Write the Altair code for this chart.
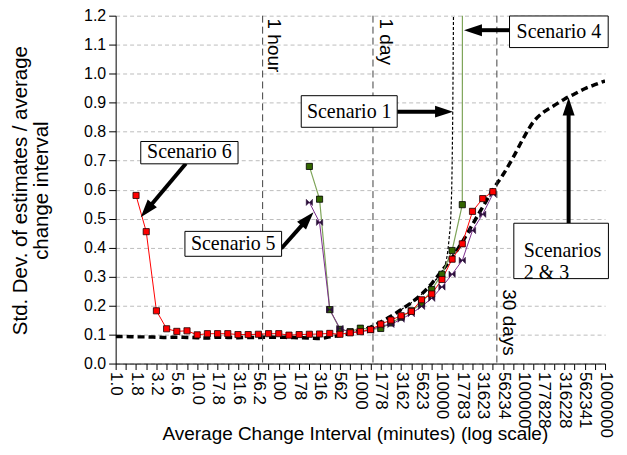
import json
import altair as alt
import pandas as pd

# ---------------- data ----------------
intervals = [1.0, 1.334, 1.778, 2.371, 3.162, 4.217, 5.623, 7.499, 10.0, 13.34,
             17.78, 23.71, 31.62, 42.17, 56.23, 74.99, 100.0, 133.4, 177.8, 237.1,
             316.2, 421.7, 562.3, 749.9, 1000.0, 1334, 1778, 2371, 3162, 4217,
             5623, 7499, 10000, 13335, 17783, 23714, 31623, 42170, 56234, 74989,
             100000, 133352, 177828, 237137, 316228, 421697, 562341, 749894, 1000000]
tick_labels = ["1.0", "1.8", "3.2", "5.6", "10.0", "17.8", "31.6", "56.2", "100", "178",
               "316", "562", "1000", "1778", "3162", "5623", "10000", "17783", "31623",
               "56234", "100000", "177828", "316228", "562341", "1000000"]
y_ticks = [0.0, 0.1, 0.2, 0.3, 0.4, 0.5, 0.6, 0.7, 0.8, 0.9, 1.0, 1.1, 1.2]

# Scenarios 2 & 3 (thick black dashed), index 0..48
scen23 = [0.093, 0.093, 0.092, 0.092, 0.091, 0.090, 0.091, 0.090, 0.089, 0.088,
          0.091, 0.090, 0.089, 0.090, 0.090, 0.091, 0.091, 0.090, 0.089, 0.088,
          0.086, 0.092, 0.097, 0.104, 0.113, 0.125, 0.143, 0.163, 0.186, 0.210,
          0.239, 0.276, 0.320, 0.365, 0.420, 0.480, 0.540, 0.600, 0.652, 0.712,
          0.778, 0.835, 0.868, 0.890, 0.912, 0.930, 0.948, 0.962, 0.975]
# Scenario 6 (red squares), starting at index 2
scen6_start = 2
scen6 = [0.580, 0.455, 0.182, 0.120, 0.111, 0.113, 0.099, 0.103, 0.103, 0.103,
         0.100, 0.100, 0.101, 0.103, 0.103, 0.098, 0.100, 0.101, 0.102, 0.104,
         0.101, 0.106, 0.110, 0.117, 0.136, 0.150, 0.165, 0.180, 0.220, 0.240,
         0.290, 0.360, 0.413, 0.525, 0.569, 0.593]
# Scenario 4 (green squares), starting at index 19; last value is far off the scale
scen4_start = 19
scen4 = [0.680, 0.567, 0.186, 0.118, 0.110, 0.122, 0.118, 0.121, 0.140, 0.160,
         0.182, 0.207, 0.255, 0.308, 0.390, 0.548, 60.0]
# Scenario 5 (purple bow-ties), starting at index 19
scen5_start = 19
scen5 = [0.556, 0.487, 0.186, 0.121, 0.108, 0.110, 0.115, 0.130, 0.135, 0.153,
         0.172, 0.197, 0.225, 0.264, 0.308, 0.356, 0.459, 0.515, 0.585]
# Scenario 1 (thin dotted)
scen1_x = [3162, 4217, 5623, 7499, 10000, 11383, 12232, 12900, 13300, 13560, 13900]
scen1_y = [0.186, 0.210, 0.239, 0.276, 0.318, 0.360, 0.430, 0.520, 0.660, 0.850, 1.250]

# reference lines
ref_x = [63.4, 1428.6, 47180]
ref_labels = ["1 hour", "1 day", "30 days"]
ref_label_x = [86.5, 2078, 66130]
ref_label_y = [1.190, 1.190, 0.256]

# annotation boxes (data coordinates)
box_text = ["Scenario 6", "Scenario 5", "Scenario 1", "Scenario 4", "Scenarios\n2 & 3"]
box_x1 = [2.032, 7.07, 188.5, 67430, 76140]
box_x2 = [31.66, 108.3, 2830, 1093000, 1100000]
box_y1 = [0.689, 0.370, 0.815, 1.090, 0.293]
box_y2 = [0.766, 0.456, 0.924, 1.199, 0.484]
text_x = [8.02, 27.66, 730.5, 271600, 100850]
text_y = [0.728, 0.413, 0.869, 1.144, 0.387]
text_align = ["center", "center", "center", "center", "left"]

# arrows: tail -> base of head -> tip, angle of head (deg, clockwise from up)
arr_tail_x = [7.27, 107.4, 2830, 67430, 357700]
arr_tail_y = [0.690, 0.397, 0.869, 1.150, 0.484]
arr_base_x = [2.716, 197.7, 8722, 29240, 357700]
arr_base_y = [0.547, 0.481, 0.869, 1.150, 0.858]
arr_tip_x = [2.032, 266.4, 13683, 18645, 357700]
arr_tip_y = [0.505, 0.522, 0.869, 1.150, 0.918]
arr_angle = [220, 41.7, 90, 270, 0]

# ---------------- chart ----------------
SANS = "Liberation Sans"
SERIF = "Liberation Serif"

xs = alt.Scale(type="log", domain=[1, 1000000], nice=False)
ys = alt.Scale(domain=[0, 1.2], nice=False, zero=False)

LBL = json.dumps(tick_labels)
label_expr = ("(round(log(datum.value)/LN10*8) % 2 == 0) ? "
              + LBL + "[round(log(datum.value)/LN10*4)] : ''")

x_axis = alt.Axis(values=intervals, labelExpr=label_expr, labelAngle=90,
                  labelAlign="left", labelBaseline="middle", labelFont=SANS,
                  labelFontSize=17, labelColor="black", labelPadding=2,
                  labelOverlap=False, labelFlush=False, labelBound=False,
                  tickSize=6, tickColor="black", domainColor="black", grid=False,
                  title="Average Change Interval (minutes) (log scale)",
                  titleFont=SANS, titleFontSize=19, titleFontWeight="normal",
                  titleColor="black", titleX=240, titleY=61, titleAlign="center",
                  titleBaseline="top")
y_axis = alt.Axis(values=y_ticks, format=".1f", labelFont=SANS, labelFontSize=16,
                  labelColor="black", labelPadding=3, tickSize=7, tickColor="black",
                  domainColor="black", grid=True, gridDash=[4, 3], gridColor="#bdbdbd",
                  title=["Std. Dev. of estimates / average", "change interval"],
                  titleFont=SANS, titleFontSize=20.5, titleFontWeight="normal",
                  titleColor="black", titleX=-105, titleY=175, titleAlign="center",
                  titleBaseline="top", titleLineHeight=21)


def sdf(start, vals):
    return pd.DataFrame({"x": intervals[start:start + len(vals)], "y": vals,
                         "i": list(range(len(vals)))})


def X(field="x"):
    return alt.X(f"{field}:Q", scale=xs, axis=x_axis)


def Y(field="y"):
    return alt.Y(f"{field}:Q", scale=ys, axis=y_axis)


bowtie = "M-1,-1L1,1L1,-1L-1,1Z"
head = "M0,0L-0.6,1.8L0.6,1.8Z"

d23 = sdf(0, scen23)
black = alt.Chart(d23).mark_line(color="black", strokeWidth=3.5, strokeDash=[7, 4],
                                 interpolate="monotone", clip=True).encode(
    x=X(), y=Y(), order="i:Q")

refs = alt.Chart(pd.DataFrame({"x": ref_x})).mark_rule(
    color="#404040", strokeWidth=1, strokeDash=[7, 4]).encode(x=X())

d1 = pd.DataFrame({"x": scen1_x, "y": scen1_y, "i": list(range(len(scen1_x)))})
dotted = alt.Chart(d1).mark_line(color="black", strokeWidth=1.2, strokeDash=[3, 2],
                                 interpolate="monotone", clip=True).encode(
    x=X(), y=Y(), order="i:Q")

d4 = sdf(scen4_start, scen4)
green_line = alt.Chart(d4).mark_line(color="#7fa55a", strokeWidth=1.2, clip=True).encode(
    x=X(), y=Y(), order="i:Q")
green_pts = alt.Chart(d4).mark_point(shape="square", filled=True, fill="#336600",
                                     stroke="black", strokeWidth=0.8, size=38,
                                     opacity=1, clip=True).encode(x=X(), y=Y())

d5 = sdf(scen5_start, scen5)
purple_line = alt.Chart(d5).mark_line(color="#7b2d8e", strokeWidth=1, clip=True).encode(
    x=X(), y=Y(), order="i:Q")
purple_pts = alt.Chart(d5).mark_point(shape=bowtie, filled=True, fill="#2b0f3a",
                                      stroke="#2b0f3a", strokeWidth=0.5, size=40,
                                      opacity=1, clip=True).encode(x=X(), y=Y())

d6 = sdf(scen6_start, scen6)
red_line = alt.Chart(d6).mark_line(color="#ff0000", strokeWidth=1, clip=True).encode(
    x=X(), y=Y(), order="i:Q")
red_pts = alt.Chart(d6).mark_point(shape="square", filled=True, fill="#ff0000",
                                   stroke="#200000", strokeWidth=0.8, size=38,
                                   opacity=1, clip=True).encode(x=X(), y=Y())

ref_text = alt.Chart(pd.DataFrame({"x": ref_label_x, "y": ref_label_y,
                                   "t": ref_labels})).mark_text(
    angle=90, align="left", baseline="middle", font=SANS, fontSize=19,
    color="black").encode(x=X(), y=Y(), text="t:N")

darr = pd.DataFrame({"tx": arr_tail_x, "ty": arr_tail_y, "bx": arr_base_x,
                     "by": arr_base_y, "px": arr_tip_x, "py": arr_tip_y,
                     "ang": arr_angle})
shafts = alt.Chart(darr).mark_rule(color="black", strokeWidth=4).encode(
    x=X("tx"), y=Y("ty"), x2="bx:Q", y2="by:Q")
heads = alt.Chart(darr).mark_point(shape=head, filled=True, color="black", size=400,
                                   opacity=1).encode(
    x=X("px"), y=Y("py"), angle=alt.Angle("ang:Q", scale=None))

dbox = pd.DataFrame({"x1": box_x1, "x2": box_x2, "y1": box_y1, "y2": box_y2,
                     "tx": text_x, "ty": text_y, "t": box_text, "al": text_align})
boxes = alt.Chart(dbox).mark_rect(fill="white", stroke="black", strokeWidth=1).encode(
    x=X("x1"), x2="x2:Q", y=Y("y1"), y2="y2:Q")
btext_c = alt.Chart(dbox).transform_filter("datum.al == 'center'").mark_text(
    align="center", baseline="middle", font=SERIF, fontSize=20, color="black").encode(
    x=X("tx"), y=Y("ty"), text="t:N")
btext_l = alt.Chart(dbox).transform_filter("datum.al == 'left'").mark_text(
    align="left", baseline="middle", font=SERIF, fontSize=20, color="black",
    lineBreak="\n", lineHeight=22).encode(x=X("tx"), y=Y("ty"), text="t:N")

chart = alt.layer(
    black, refs, dotted, green_line, purple_line, red_line,
    green_pts, purple_pts, red_pts, ref_text, shafts, heads, boxes, btext_c, btext_l
).properties(
    width=491, height=349, autosize="none",
    padding={"left": 108, "top": 7, "right": 14, "bottom": 80}
).configure_view(stroke=None)

chart.save("out.html", embed_options={"renderer": "svg", "actions": False})
